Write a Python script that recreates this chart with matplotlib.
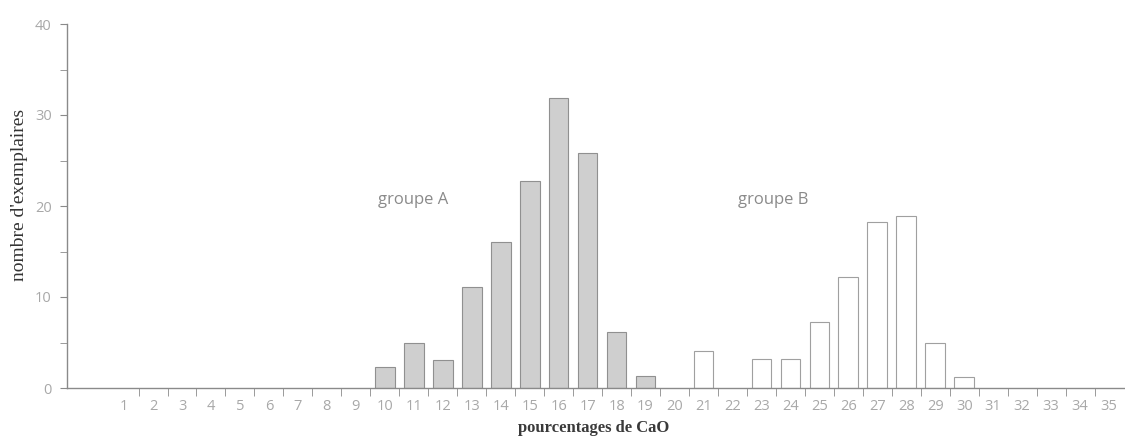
import matplotlib
matplotlib.use("Agg")
import matplotlib.pyplot as plt

# pourcentages de CaO (classes) et nombre d'exemplaires
classes = list(range(1, 36))
groupe_a_x = [10, 11, 12, 13, 14, 15, 16, 17, 18, 19]
groupe_a_n = [2.3, 5, 3.1, 11.1, 16, 22.8, 31.9, 25.8, 6.2, 1.3]
groupe_b_x = [21, 23, 24, 25, 26, 27, 28, 29, 30]
groupe_b_n = [4.1, 3.2, 3.2, 7.3, 12.2, 18.2, 18.9, 4.9, 1.2]
y_major = [0, 10, 20, 30, 40]
y_minor = [5, 15, 25, 35]

grey_txt = "#a8a8a8"
grey_line = "#8a8a8a"

fig = plt.figure(figsize=(11.25, 4.41), dpi=100)
ax = fig.add_axes([67/1125, 1-388/441, 1-67/1125, (388-24)/441])

ax.bar(groupe_a_x, groupe_a_n, width=0.68, color="#cfcfcf", edgecolor="#909090", linewidth=0.8)
ax.bar(groupe_b_x, groupe_b_n, width=0.68, color="white", edgecolor="#a0a0a0", linewidth=0.8)

ax.set_xlim(-0.97, 35.55)
ax.set_ylim(0, 40)

for s in ["top", "right"]:
    ax.spines[s].set_visible(False)
for s in ["left", "bottom"]:
    ax.spines[s].set_color(grey_line)
    ax.spines[s].set_linewidth(1.0)

# x: labels at each class, small ticks between classes
ax.set_xticks(classes)
ax.set_xticklabels([str(c) for c in classes])
ax.tick_params(axis="x", which="major", length=0, pad=8, labelsize=10.5, labelcolor=grey_txt)
ax.set_xticks([c + 0.5 for c in classes[:-1]], minor=True)
ax.tick_params(axis="x", which="minor", length=6, color=grey_line, direction="out")

ax.set_yticks(y_major)
ax.set_yticks(y_minor, minor=True)
ax.tick_params(axis="y", which="both", length=5, color=grey_line, direction="out")
ax.tick_params(axis="y", which="major", labelsize=10.5, labelcolor=grey_txt, pad=6)

for lab in ax.get_xticklabels() + ax.get_yticklabels():
    lab.set_family("Open Sans")

ax.text(10.98, 20.7, "groupe A", ha="center", va="center", fontsize=12, color="#8a8a8a", family="Open Sans")
ax.text(23.4, 20.7, "groupe B", ha="center", va="center", fontsize=12, color="#8a8a8a", family="Open Sans")

ax.set_xlabel("pourcentages de CaO", fontsize=12, family="Liberation Serif", color="#3a3a3a", fontweight="bold", va="center")
ax.set_ylabel("nombre d'exemplaires", fontsize=14, family="Liberation Serif", color="#333333", va="center")
ax.xaxis.set_label_coords((594-67)/(1125-67), -(428-388)/(388-24))
ax.yaxis.set_label_coords(-(67-20)/(1125-67), (388-195)/(388-24))

fig.savefig("out.png", dpi=100)
